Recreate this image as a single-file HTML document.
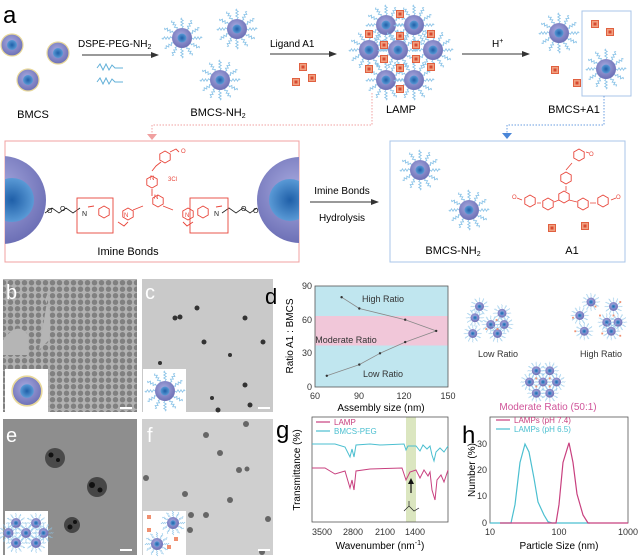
<!DOCTYPE html>
<html><head><meta charset="utf-8"><style>
html,body{margin:0;padding:0;background:#fff}
svg{display:block;font-family:"Liberation Sans",sans-serif}
</style></head><body>
<svg width="639" height="558" viewBox="0 0 639 558" xmlns="http://www.w3.org/2000/svg">
<defs>
<radialGradient id="shell" cx="45%" cy="40%" r="60%"><stop offset="0" stop-color="#a9abe0"/><stop offset="1" stop-color="#6d70b6"/></radialGradient>
<radialGradient id="core" cx="50%" cy="50%" r="50%"><stop offset="0" stop-color="#1f5fa8"/><stop offset="1" stop-color="#5a9ad6"/></radialGradient>
<path id="spk" d="M0,-10 l1.2,-1.5 l-2.4,-1.5 l2.4,-1.5 l-2.4,-1.5 l2.4,-1.5 l-2.4,-1.5 l1.2,-1.2" fill="none" stroke="#8cc4e8" stroke-width="0.9"/>
<g id="spikes"><use href="#spk"/><use href="#spk" transform="rotate(30)"/><use href="#spk" transform="rotate(60)"/><use href="#spk" transform="rotate(90)"/><use href="#spk" transform="rotate(120)"/><use href="#spk" transform="rotate(150)"/><use href="#spk" transform="rotate(180)"/><use href="#spk" transform="rotate(210)"/><use href="#spk" transform="rotate(240)"/><use href="#spk" transform="rotate(270)"/><use href="#spk" transform="rotate(300)"/><use href="#spk" transform="rotate(330)"/></g>
<g id="bp"><circle r="11" fill="url(#shell)" stroke="#e8d89a" stroke-width="1.2"/><circle r="5" fill="url(#core)"/></g>
<g id="sp"><use href="#spikes"/><circle r="10" fill="url(#shell)"/><circle r="4.5" fill="url(#core)"/></g>
<g id="sq"><rect x="-3.5" y="-3.5" width="7" height="7" fill="#f0a080" stroke="#e06040" stroke-width="1"/><rect x="-1.5" y="-1.5" width="3" height="3" fill="#d84a30"/></g>
<g id="sqs"><rect x="-2" y="-2" width="4" height="4" fill="#f09070"/></g>
<polygon id="hex" points="0,-6 5.2,-3 5.2,3 0,6 -5.2,3 -5.2,-3" fill="none" stroke="#e8453a" stroke-width="0.9"/>
<pattern id="tem" width="7" height="6.5" patternUnits="userSpaceOnUse"><rect width="7" height="6.5" fill="#b2b2b2"/><circle cx="3.5" cy="3.2" r="2.7" fill="#808080"/></pattern>
<marker id="ah" markerWidth="8" markerHeight="6" refX="7" refY="3" orient="auto"><path d="M0,0 L8,3 L0,6z" fill="#333"/></marker>
<clipPath id="cl1"><rect x="5" y="141" width="294" height="121"/></clipPath>
</defs>

<text x="3" y="23" font-size="24">a</text>
<use href="#bp" x="12" y="45"/><use href="#bp" x="58" y="53"/><use href="#bp" x="28" y="80"/>
<text x="33" y="118" font-size="11" text-anchor="middle">BMCS</text>
<text x="78" y="47" font-size="10">DSPE-PEG-NH<tspan font-size="7" dy="2">2</tspan></text>
<line x1="82" y1="55" x2="158" y2="55" stroke="#333" stroke-width="1" marker-end="url(#ah)"/>
<path d="M97,68 l3,-4 l3,6 l3,-6 l3,6 l3,-5 l3,3 h8" fill="none" stroke="#62b0d8" stroke-width="1"/>
<path d="M97,82 l3,-4 l3,6 l3,-6 l3,6 l3,-5 l3,3 h8" fill="none" stroke="#62b0d8" stroke-width="1"/>
<use href="#sp" x="182" y="38"/><use href="#sp" x="237" y="29"/><use href="#sp" x="220" y="80"/>
<text x="218" y="116" font-size="11" text-anchor="middle">BMCS-NH<tspan font-size="7" dy="2">2</tspan></text>
<text x="270" y="47" font-size="10">Ligand A1</text>
<line x1="270" y1="54" x2="336" y2="54" stroke="#333" marker-end="url(#ah)"/>
<use href="#sq" x="303" y="67"/><use href="#sq" x="312" y="78"/><use href="#sq" x="296" y="82"/>
<use href="#sp" x="386" y="25"/><use href="#sp" x="414" y="25"/><use href="#sp" x="369" y="50"/><use href="#sp" x="398" y="50"/><use href="#sp" x="433" y="50"/><use href="#sp" x="386" y="80"/><use href="#sp" x="414" y="80"/>
<use href="#sq" x="400" y="14"/><use href="#sq" x="369" y="34"/><use href="#sq" x="384" y="45"/><use href="#sq" x="400" y="36"/><use href="#sq" x="416" y="45"/><use href="#sq" x="431" y="34"/><use href="#sq" x="384" y="59"/><use href="#sq" x="416" y="59"/><use href="#sq" x="369" y="69"/><use href="#sq" x="400" y="68"/><use href="#sq" x="431" y="67"/><use href="#sq" x="400" y="89"/>
<text x="401" y="113" font-size="11" text-anchor="middle">LAMP</text>
<text x="492" y="47" font-size="10">H<tspan font-size="7" dy="-4">+</tspan></text>
<line x1="462" y1="54" x2="529" y2="54" stroke="#333" marker-end="url(#ah)"/>
<use href="#sp" x="559" y="33"/>
<rect x="582" y="11" width="49" height="85" fill="none" stroke="#a8c6e8" stroke-width="1"/>
<use href="#sp" x="606" y="69"/>
<use href="#sq" x="595" y="24"/><use href="#sq" x="610" y="32"/><use href="#sq" x="555" y="70"/><use href="#sq" x="577" y="83"/>
<text x="574" y="113" font-size="11" text-anchor="middle">BMCS+A1</text>
<path d="M372,93 V125 H152 V138" fill="none" stroke="#f0a0a0" stroke-dasharray="1.5,1.5"/>
<path d="M147,134 L152,140 L157,134z" fill="#f0a0a0"/>
<path d="M604,96 V125 H507 V136" fill="none" stroke="#6a9ee0" stroke-dasharray="1.5,1.5"/>
<path d="M502,133 L507,139 L512,133z" fill="#4a86d8"/>

<rect x="5" y="141" width="294" height="121" fill="#fff" stroke="#f0a0a0" stroke-width="1"/>
<g clip-path="url(#cl1)">
<circle cx="2" cy="200" r="44" fill="url(#shell)"/><circle cx="12" cy="200" r="22" fill="url(#core)"/>
<circle cx="300" cy="200" r="43" fill="url(#shell)"/><circle cx="290" cy="200" r="21" fill="url(#core)"/>
</g>
<g fill="none" stroke="#222" stroke-width="0.8">
<path d="M45,213 l7,-5 l7,5 l7,-5 l7,5 l7,-5 M222,213 l7,-5 l7,5 l7,-5 l7,5 l7,-5"/>
</g>
<g font-size="7" fill="#222"><text x="47" y="213">O</text><text x="60" y="211">O</text><text x="82" y="216">N</text><text x="214" y="216">N</text><text x="241" y="211">O</text><text x="253" y="213">O</text></g>
<g stroke="#e8453a" stroke-width="0.9" fill="none">
<rect x="77" y="198" width="36" height="35"/><rect x="190" y="198" width="38" height="35"/>
<path d="M88,207 l6,-1 M118,222 l6,4 l4,-4 M133,210 l10,-4 M163,206 l10,4 M183,222 l4,4 l6,-4 M152,189 v7 M152,171 l4,-5 l5,-4 M170,152 l6,-3 l3,3 M216,207 l6,-1"/>
</g>
<use href="#hex" x="104" y="212"/><use href="#hex" x="128" y="214"/><use href="#hex" x="158" y="201"/><use href="#hex" x="188" y="214"/><use href="#hex" x="203" y="212"/><use href="#hex" x="152" y="182"/><use href="#hex" x="165" y="157"/>
<g font-size="6" fill="#e8453a"><text x="181" y="153">O</text><text x="168" y="181">3Cl</text><text x="150" y="180">N</text><text x="124" y="217">N</text><text x="185" y="217">N</text><text x="154" y="199">N</text></g>
<text x="128" y="255" font-size="11" text-anchor="middle">Imine Bonds</text>
<text x="342" y="194" font-size="10" text-anchor="middle">Imine Bonds</text>
<line x1="310" y1="202" x2="378" y2="202" stroke="#333" marker-end="url(#ah)"/>
<text x="342" y="221" font-size="10" text-anchor="middle">Hydrolysis</text>

<rect x="390" y="141" width="235" height="121" fill="#fff" stroke="#a8c6e8" stroke-width="1"/>
<use href="#sp" x="420" y="170"/><use href="#sp" x="469" y="210"/>
<text x="453" y="254" font-size="11" text-anchor="middle">BMCS-NH<tspan font-size="7" dy="2">2</tspan></text>
<text x="572" y="254" font-size="11" text-anchor="middle">A1</text>
<g stroke="#e8453a" stroke-width="0.8" fill="none"><path d="M566,186 v5 M559,200 l-5,2 M569,200 l8,2 M541,203 l-4,0 M590,203 l6,0 M522,200 l-5,-2 M611,200 l5,-2 M566,170 l6,-7 M586,152 l3,1"/></g>
<use href="#hex" x="579" y="155"/><use href="#hex" x="566" y="178"/><use href="#hex" x="564" y="197"/><use href="#hex" x="548" y="204"/><use href="#hex" x="530" y="201"/><use href="#hex" x="583" y="204"/><use href="#hex" x="603" y="201"/>
<g font-size="6" fill="#e8453a"><text x="589" y="156">O</text><text x="512" y="199">O</text><text x="616" y="199">O</text></g>
<use href="#sq" x="552" y="228"/><use href="#sq" x="585" y="226"/>

<rect x="3" y="279" width="134" height="133" fill="#b2b2b2"/>
<path d="M3,279 H137 V412 H3z" fill="url(#tem)"/>
<path d="M45,300 q8,15 4,40 l-10,10 l10,-60z M3,340 q15,-20 25,-5 v20 H3z" fill="#b5b5b5"/>
<rect x="142" y="279" width="131" height="133" fill="#c9c9c9"/>
<g fill="#333"><circle cx="197" cy="308" r="2.5"/><circle cx="175" cy="318" r="2.5"/><circle cx="180" cy="317" r="2.5"/><circle cx="245" cy="318" r="2.5"/><circle cx="204" cy="342" r="2.5"/><circle cx="263" cy="342" r="2.5"/><circle cx="230" cy="355" r="2"/><circle cx="160" cy="363" r="2"/><circle cx="245" cy="385" r="2.5"/><circle cx="212" cy="398" r="2"/><circle cx="250" cy="405" r="2.5"/><circle cx="218" cy="410" r="2.5"/></g>
<rect x="3" y="419" width="134" height="136" fill="#8e8e8e"/>
<g fill="#3a3a3a"><circle cx="55" cy="458" r="10" opacity=".8"/><circle cx="97" cy="487" r="10" opacity=".85"/><circle cx="72" cy="525" r="8" opacity=".85"/></g>
<g fill="#111"><circle cx="51" cy="455" r="2.5"/><circle cx="58" cy="460" r="2"/><circle cx="92" cy="485" r="3"/><circle cx="100" cy="490" r="2.5"/><circle cx="70" cy="527" r="2.5"/><circle cx="75" cy="522" r="2"/></g>
<rect x="142" y="419" width="131" height="136" fill="#cfcfcf"/>
<g fill="#666"><circle cx="206" cy="435" r="3"/><circle cx="246" cy="424" r="3"/><circle cx="220" cy="453" r="3"/><circle cx="239" cy="470" r="3"/><circle cx="247" cy="469" r="2.5"/><circle cx="146" cy="478" r="3"/><circle cx="185" cy="494" r="3"/><circle cx="230" cy="500" r="3"/><circle cx="191" cy="515" r="3"/><circle cx="206" cy="515" r="3"/><circle cx="268" cy="519" r="3"/><circle cx="190" cy="530" r="3"/><circle cx="262" cy="552" r="3"/></g>
<g fill="#fff">
<rect x="5" y="369" width="43" height="43"/><rect x="143" y="369" width="43" height="43"/><rect x="5" y="511" width="43" height="44"/><rect x="143" y="511" width="43" height="44"/>
<rect x="120" y="407" width="12" height="2"/><rect x="258" y="407" width="12" height="2"/><rect x="120" y="549" width="12" height="2"/><rect x="258" y="549" width="12" height="2"/>
</g>
<g transform="translate(27,391) scale(1.35)"><use href="#bp"/></g>
<g transform="translate(165,391)"><use href="#sp"/></g>
<g transform="translate(26,533) scale(0.5)"><use href="#sp" x="-20" y="-20"/><use href="#sp" x="20" y="-20"/><use href="#sp" x="-35" y="0"/><use href="#sp" x="0" y="0"/><use href="#sp" x="35" y="0"/><use href="#sp" x="-20" y="20"/><use href="#sp" x="20" y="20"/></g>
<g transform="translate(143,511)"><g transform="translate(30,12) scale(.6)"><use href="#sp"/></g><g transform="translate(14,33) scale(.6)"><use href="#sp"/></g><use href="#sqs" x="6" y="6"/><use href="#sqs" x="6" y="19"/><use href="#sqs" x="33" y="28"/><use href="#sqs" x="26" y="36"/></g>
<g font-size="20" fill="#fff"><text x="6" y="299">b</text><text x="145" y="299">c</text><text x="6" y="442">e</text><text x="147" y="442">f</text></g>

<text x="265" y="304" font-size="22">d</text>
<rect x="315" y="286" width="133" height="101" fill="#c0e6ef"/>
<rect x="315" y="316" width="133" height="29.5" fill="#f1c7d9"/>
<rect x="315" y="286" width="133" height="101" fill="none" stroke="#555" stroke-width="0.8"/>
<polyline points="341.6,297.2 359.3,308.5 405.2,319.7 436.2,330.9 405.2,342.1 380,353.3 359.3,364.6 326.8,375.8" fill="none" stroke="#888" stroke-width="0.8"/>
<g fill="#333"><circle cx="341.6" cy="297.2" r="1.2"/><circle cx="359.3" cy="308.5" r="1.2"/><circle cx="405.2" cy="319.7" r="1.2"/><circle cx="436.2" cy="330.9" r="1.2"/><circle cx="405.2" cy="342.1" r="1.2"/><circle cx="380" cy="353.3" r="1.2"/><circle cx="359.3" cy="364.6" r="1.2"/><circle cx="326.8" cy="375.8" r="1.2"/></g>
<g font-size="9" fill="#333" text-anchor="middle"><text x="383" y="302">High Ratio</text><text x="346" y="343">Moderate Ratio</text><text x="383" y="377">Low Ratio</text></g>
<g font-size="9" fill="#333" text-anchor="end"><text x="312" y="390">0</text><text x="312" y="356">30</text><text x="312" y="323">60</text><text x="312" y="289">90</text></g>
<g font-size="9" fill="#333" text-anchor="middle"><text x="315" y="399">60</text><text x="359" y="399">90</text><text x="404" y="399">120</text><text x="448" y="399">150</text></g>
<text x="381" y="411" font-size="10" text-anchor="middle">Assembly size (nm)</text>
<text transform="translate(293,336) rotate(-90)" font-size="10" text-anchor="middle">Ratio A1 : BMCS</text>

<g transform="translate(493,320) scale(0.45)"><use href="#sp" x="-30" y="-30"/><use href="#sp" x="-40" y="-5"/><use href="#sp" x="20" y="-15"/><use href="#sp" x="-5" y="10"/><use href="#sp" x="25" y="10"/><use href="#sp" x="10" y="30"/><use href="#sp" x="-45" y="30"/><use href="#sqs" x="8" y="0"/><use href="#sqs" x="10" y="20"/><use href="#sqs" x="-15" y="20"/></g>
<g transform="translate(600,320) scale(0.45)"><use href="#sp" x="-20" y="-40"/><use href="#sp" x="30" y="-30"/><use href="#sp" x="-45" y="-10"/><use href="#sp" x="15" y="5"/><use href="#sp" x="40" y="5"/><use href="#sp" x="25" y="25"/><use href="#sp" x="-35" y="25"/><use href="#sqs" x="-10" y="-30"/><use href="#sqs" x="-60" y="-5"/><use href="#sqs" x="0" y="-10"/><use href="#sqs" x="45" y="-40"/><use href="#sqs" x="30" y="-10"/><use href="#sqs" x="-55" y="25"/><use href="#sqs" x="5" y="30"/><use href="#sqs" x="45" y="35"/></g>
<g font-size="9" fill="#333" text-anchor="middle"><text x="498" y="357">Low Ratio</text><text x="601" y="357">High Ratio</text></g>
<g transform="translate(543,382) scale(0.45)"><use href="#sp" x="-15" y="-25"/><use href="#sp" x="15" y="-25"/><use href="#sp" x="-30" y="0"/><use href="#sp" x="0" y="0"/><use href="#sp" x="30" y="0"/><use href="#sp" x="-15" y="25"/><use href="#sp" x="15" y="25"/><use href="#sqs" x="-15" y="-8"/><use href="#sqs" x="15" y="-8"/><use href="#sqs" x="-15" y="10"/><use href="#sqs" x="15" y="10"/></g>
<text x="548" y="410" font-size="10" fill="#d0559a" text-anchor="middle">Moderate Ratio (50:1)</text>

<text x="276" y="438" font-size="24">g</text>
<rect x="406" y="417" width="10" height="105" fill="#dbe6c0"/>
<rect x="312" y="417" width="136" height="105" fill="none" stroke="#555" stroke-width="0.8"/>
<line x1="316" y1="422" x2="330" y2="422" stroke="#c8407f" stroke-width="1.2"/>
<text x="334" y="425" font-size="8" fill="#c8407f">LAMP</text>
<line x1="316" y1="431" x2="330" y2="431" stroke="#4bbfd0" stroke-width="1.2"/>
<text x="334" y="434" font-size="8" fill="#4bbfd0">BMCS-PEG</text>
<polyline points="312,444 335,444 345,447 350,457 352,449 354,457 356,445 370,444 380,445 404,444 406,450 408,446 416,446 420,451 423,445 427,449 430,446 432,455 434,461 436,452 440,448 444,452 448,446" fill="none" stroke="#4bbfd0" stroke-width="1"/>
<polyline points="312,468 325,468 335,474 345,471 350,488 352,480 354,490 356,471 370,469 402,468 406,480 410,472 416,470 420,478 424,470 428,476 430,472 432,490 435,500 437,480 441,475 444,482 448,470" fill="none" stroke="#c8407f" stroke-width="1"/>
<path d="M411,493 v-12" stroke="#111" stroke-width="1.2"/><path d="M408,484 L411,478 L414,484z" fill="#111"/>
<path d="M404,511 l5,-5 l5,5 l5,-3 M409,506 v-5" fill="none" stroke="#222" stroke-width="0.7"/>
<g font-size="9" fill="#333" text-anchor="middle"><text x="322" y="535">3500</text><text x="353" y="535">2800</text><text x="385" y="535">2100</text><text x="415" y="535">1400</text></g>
<text x="380" y="549" font-size="10" text-anchor="middle">Wavenumber (nm<tspan font-size="7" dy="-4">-1</tspan><tspan dy="4">)</tspan></text>
<text transform="translate(300,470) rotate(-90)" font-size="10" text-anchor="middle">Transmittance (%)</text>

<text x="462" y="443" font-size="24">h</text>
<rect x="490" y="417" width="138" height="106" fill="none" stroke="#555" stroke-width="0.8"/>
<line x1="496" y1="420" x2="510" y2="420" stroke="#c8407f" stroke-width="1.2"/>
<text x="514" y="423" font-size="8" fill="#c8407f">LAMPs (pH 7.4)</text>
<line x1="496" y1="429" x2="510" y2="429" stroke="#4bbfd0" stroke-width="1.2"/>
<text x="514" y="432" font-size="8" fill="#4bbfd0">LAMPs (pH 6.5)</text>
<line x1="490" y1="523" x2="628" y2="523" stroke="#c8407f" stroke-width="1" stroke-dasharray="1.5,3"/>
<polyline points="490,523 511,523 515,504.6 520,462.5 525,444 529,452 534,478.3 538,502 544,515 548,521.7 552,523 590,523" fill="none" stroke="#4bbfd0" stroke-width="1.2"/>
<polyline points="500,523 556,523 559,504.6 563,462.5 569,442.8 573,462.5 577,494 583,515 588,523 628,523" fill="none" stroke="#c8407f" stroke-width="1.2"/>
<g font-size="9" fill="#333" text-anchor="end"><text x="487" y="526">0</text><text x="487" y="499">10</text><text x="487" y="473">20</text><text x="487" y="447">30</text></g>
<g font-size="9" fill="#333" text-anchor="middle"><text x="490" y="535">10</text><text x="559" y="535">100</text><text x="628" y="535">1000</text></g>
<text x="559" y="549" font-size="10" text-anchor="middle">Particle Size (nm)</text>
<text transform="translate(475,470) rotate(-90)" font-size="10" text-anchor="middle">Number (%)</text>
</svg>
</body></html>
